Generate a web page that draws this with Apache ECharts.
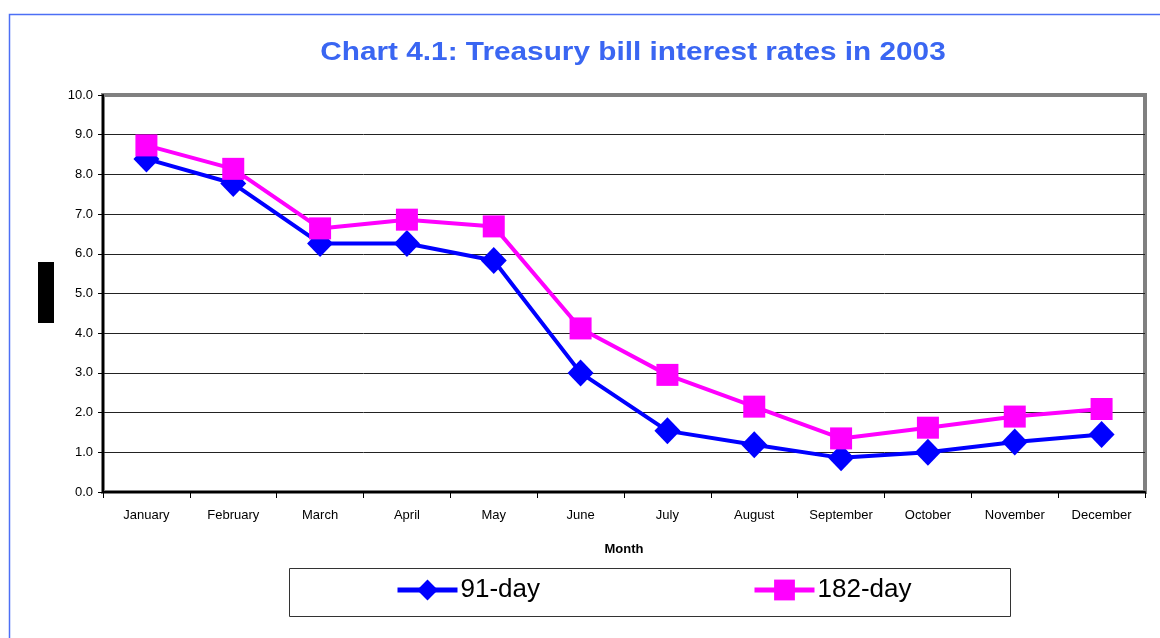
<!DOCTYPE html>
<html>
<head>
<meta charset="utf-8">
<title>Treasury bill interest rates in 2003</title>
<style type="text/css">
  html, body { margin:0; padding:0; background:#fff; }
  #main { width:1160px; height:638px; }
</style>
<script src="https://cdn.jsdelivr.net/npm/echarts@6/dist/echarts.min.js"></script>
</head>
<body>
<div id="main"></div>
<script type="text/javascript">
  // months on the x axis
  var months = ['January', 'February', 'March', 'April', 'May', 'June',
                'July', 'August', 'September', 'October', 'November', 'December'];
  // rates (%)
  var rate91 = [8.39, 7.77, 6.26, 6.26, 5.83, 3.00, 1.54, 1.19, 0.86, 1.00, 1.26, 1.45];
  var rate182 = [8.73, 8.14, 6.64, 6.86, 6.69, 4.12, 2.95, 2.15, 1.35, 1.62, 1.90, 2.09];
  var seriesNames = ['91-day', '182-day'];
  var titleText = 'Chart 4.1: Treasury bill interest rates in 2003';

  var chart = echarts.init(document.getElementById('main'));

  var option = {
    backgroundColor: '#fff',
    animation: false,
    graphic: [
      // outer frame (blue)
      { type: 'polyline', shape: { points: [[9.5, 640], [9.5, 14.5], [1162, 14.5]] },
        style: { stroke: '#4d6ff5', lineWidth: 1.5, fill: null } },
      // title, stretched a bit like the original
      { type: 'text', x: 633, y: 53, scaleX: 1.145,
        style: { text: titleText, font: 'bold 26px "Liberation Sans", Arial', fill: '#3a66f2',
                 textAlign: 'center', textVerticalAlign: 'middle' } },
      // black block where the y title sits
      { type: 'rect', shape: { x: 38, y: 262, width: 16, height: 61 }, style: { fill: '#000' } },
      // legend box
      { type: 'rect', shape: { x: 289.5, y: 568.5, width: 721, height: 48 },
        style: { fill: null, stroke: '#333', lineWidth: 1 } }
    ],
    legend: {
      data: seriesNames,
      left: 395,
      top: 577,
      padding: 0,
      itemWidth: 60,
      itemHeight: 26,
      itemGap: 212,
      lineStyle: { width: 5 },
      textStyle: { fontFamily: 'Liberation Sans, Arial', fontSize: 26, color: '#000', padding: [0, 0, 0, -2] }
    },
    grid: {
      left: 103, right: 15, top: 95, bottom: 146,
      show: true, borderColor: '#808080', borderWidth: 4
    },
    xAxis: {
      type: 'category',
      data: months,
      boundaryGap: true,
      name: 'Month',
      nameLocation: 'middle',
      nameGap: 51,
      nameTextStyle: { fontFamily: 'Liberation Sans, Arial', fontSize: 13, fontWeight: 'bold', color: '#000' },
      axisLine: { lineStyle: { color: '#000', width: 2 } },
      axisTick: { show: true, alignWithLabel: false, length: 6, lineStyle: { color: '#000', width: 1 } },
      axisLabel: { fontFamily: 'Liberation Sans, Arial', fontSize: 13, color: '#000', margin: 17, interval: 0 }
    },
    yAxis: {
      type: 'value',
      min: 0, max: 10, interval: 1,
      axisLine: { show: true, lineStyle: { color: '#000', width: 2 } },
      axisTick: { show: true, length: 5, lineStyle: { color: '#000' } },
      axisLabel: {
        fontFamily: 'Liberation Sans, Arial', fontSize: 13, color: '#000', margin: 10,
        formatter: function (v) { return v.toFixed(1); }
      },
      splitLine: { show: true, showMaxLine: false, lineStyle: { color: '#222', width: 1 } }
    },
    series: [
      {
        name: seriesNames[0],
        type: 'line',
        data: rate91,
        symbol: 'diamond',
        symbolSize: [26, 27],
        itemStyle: { color: '#0000ff' },
        lineStyle: { color: '#0000ff', width: 4 }
      },
      {
        name: seriesNames[1],
        type: 'line',
        data: rate182,
        symbol: 'rect',
        symbolSize: 22,
        itemStyle: { color: '#ff00ff' },
        lineStyle: { color: '#ff00ff', width: 4 }
      }
    ]
  };

  chart.setOption(option);
</script>
</body>
</html>
